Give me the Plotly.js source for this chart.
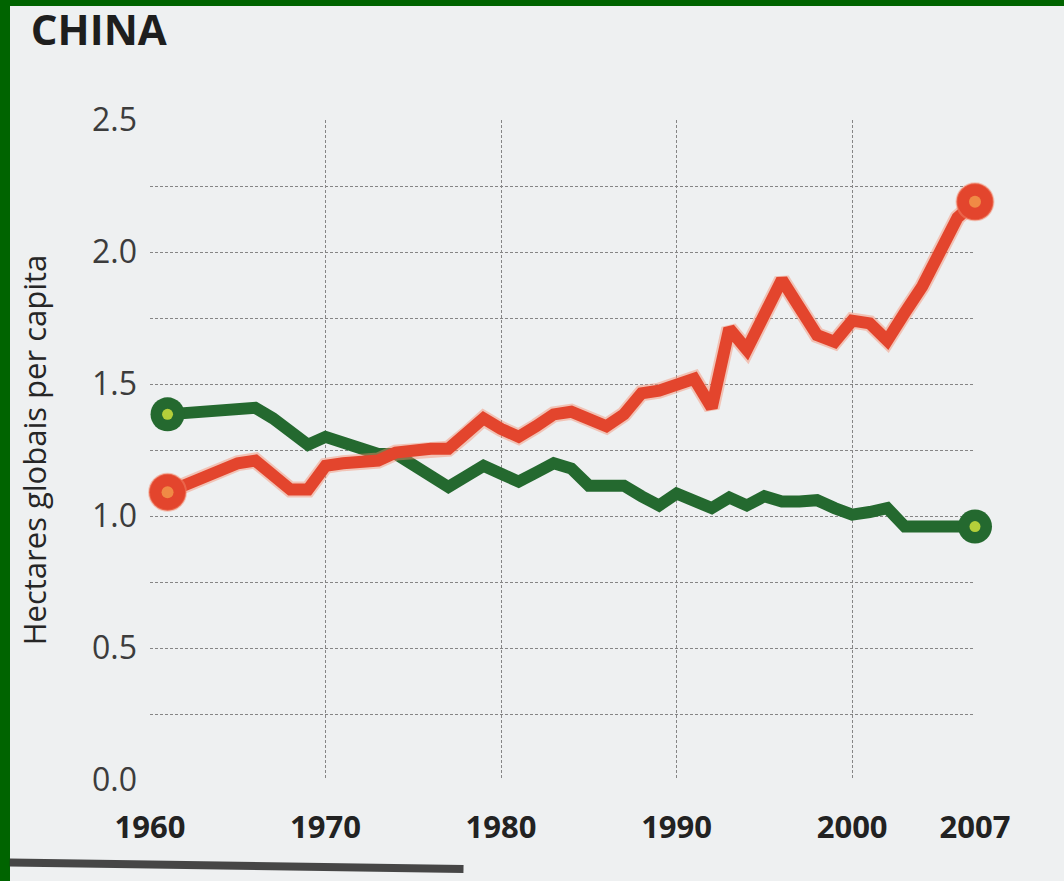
<!DOCTYPE html>
<html>
<head>
<meta charset="utf-8">
<script src="https://cdn.plot.ly/plotly-3.0.1.min.js"></script>
<style>
  html, body { margin: 0; padding: 0; background: #006400; }
  #frame { position: absolute; left: 10px; top: 6px; width: 1054px; height: 875px; background: #eef0f1; }
  #chart { position: absolute; left: 0; top: 0; width: 1064px; height: 881px; }
</style>
</head>
<body>
<div id="frame"></div>
<div id="chart"></div>
<script>
// ---- data ----
const chartTitle = 'CHINA';
const yAxisTitle = 'Hectares globais per capita';

const years = [1961,1962,1963,1964,1965,1966,1967,1968,1969,1970,
               1971,1972,1973,1974,1975,1976,1977,1978,1979,1980,
               1981,1982,1983,1984,1985,1986,1987,1988,1989,1990,
               1991,1992,1993,1994,1995,1996,1997,1998,1999,2000,
               2001,2002,2003,2004,2005,2006,2007];

// red line (ecological footprint)
const footprint = [1.09,1.12,1.15,1.18,1.20,1.21,1.16,1.10,1.10,1.19,
                   1.20,1.205,1.21,1.24,1.25,1.255,1.255,1.31,1.37,1.33,
                   1.30,1.34,1.385,1.395,1.37,1.34,1.385,1.465,1.475,1.50,
                   1.52,1.41,1.71,1.63,1.76,1.895,1.79,1.685,1.66,1.74,
                   1.73,1.665,1.77,1.87,2.00,2.13,2.19];

// green line (biocapacity)
const biocapacity = [1.385,1.39,1.395,1.40,1.405,1.41,1.37,1.32,1.27,1.30,
                     1.28,1.255,1.235,1.235,1.19,1.15,1.11,1.15,1.19,1.16,
                     1.13,1.165,1.20,1.18,1.115,1.115,1.115,1.075,1.04,1.085,
                     1.055,1.03,1.07,1.04,1.075,1.055,1.055,1.06,1.03,1.005,
                     1.015,1.03,0.96,0.96,0.962,0.96,0.96];

const xTickVals = [1960,1970,1980,1990,2000,2007];
const xTickText = ['1960','1970','1980','1990','2000','2007'];
const yTickVals = [0,0.25,0.5,0.75,1.0,1.25,1.5,1.75,2.0,2.25,2.5];
const yTickText = ['0.0','','0.5','','1.0','','1.5','','2.0','','2.5'];

// ---- styles ----
const RED = '#e3452d', RED_DOT = '#f08a45', RED_HALO = 'rgba(245,140,110,0.45)';
const GREEN = '#24692f', GREEN_DOT = '#b4cf3a';
const FONT = '"Open Sans", "Noto Sans", sans-serif';

function ends(arr) { return [arr[0], arr[arr.length - 1]]; }

const traces = [
  { x: years, y: biocapacity, mode: 'lines', line: { color: GREEN, width: 12 }, hoverinfo: 'skip', cliponaxis: false },
  { x: years, y: footprint, mode: 'lines', line: { color: RED_HALO, width: 16 }, hoverinfo: 'skip', cliponaxis: false },
  { x: years, y: footprint, mode: 'lines', line: { color: RED, width: 12 }, hoverinfo: 'skip', cliponaxis: false },
  { x: ends(years), y: ends(biocapacity), mode: 'markers', marker: { color: GREEN, size: 34 }, hoverinfo: 'skip', cliponaxis: false },
  { x: ends(years), y: ends(biocapacity), mode: 'markers', marker: { color: GREEN_DOT, size: 11 }, hoverinfo: 'skip', cliponaxis: false },
  { x: ends(years), y: ends(footprint), mode: 'markers', marker: { color: RED, size: 37, line: { color: RED_HALO, width: 2 } }, hoverinfo: 'skip', cliponaxis: false },
  { x: ends(years), y: ends(footprint), mode: 'markers', marker: { color: RED_DOT, size: 12 }, hoverinfo: 'skip', cliponaxis: false }
];

const layout = {
  width: 1064, height: 881,
  paper_bgcolor: 'rgba(0,0,0,0)',
  plot_bgcolor: 'rgba(0,0,0,0)',
  showlegend: false,
  margin: { l: 150, r: 89, t: 120, b: 101 },
  title: {
    text: '<b>' + chartTitle + '</b>',
    font: { family: FONT, size: 42, color: '#1e1e1e' },
    xref: 'container', yref: 'container',
    x: 0.029, xanchor: 'left', y: 0.982, yanchor: 'top'
  },
  xaxis: {
    range: [1960, 2007],
    tickmode: 'array', tickvals: xTickVals, ticktext: xTickText,
    showgrid: true, gridcolor: '#858585', gridwidth: 1, griddash: '3px,2px',
    zeroline: false, showline: false, ticks: '',
    ticklabelstandoff: 26,
    tickfont: { family: FONT, size: 31, color: '#222222', weight: 'bold' }
  },
  yaxis: {
    range: [0, 2.5],
    tickmode: 'array', tickvals: yTickVals, ticktext: yTickText,
    showgrid: true, gridcolor: '#858585', gridwidth: 1, griddash: '3px,2px',
    zeroline: false, showline: false, ticks: '',
    ticklabelstandoff: 12,
    tickfont: { family: FONT, size: 32, color: '#3c3c3c' },
    title: {
      text: yAxisTitle,
      font: { family: FONT, size: 31, color: '#262626' },
      standoff: 36
    }
  },
  shapes: [
    { type: 'line', xref: 'paper', yref: 'paper',
      x0: -0.17, x1: 0.38, y0: -0.125, y1: -0.135,
      line: { color: 'rgba(40,40,40,0.85)', width: 8 } }
  ]
};

Plotly.newPlot('chart', traces, layout, { staticPlot: true, displayModeBar: false });
</script>
</body>
</html>
